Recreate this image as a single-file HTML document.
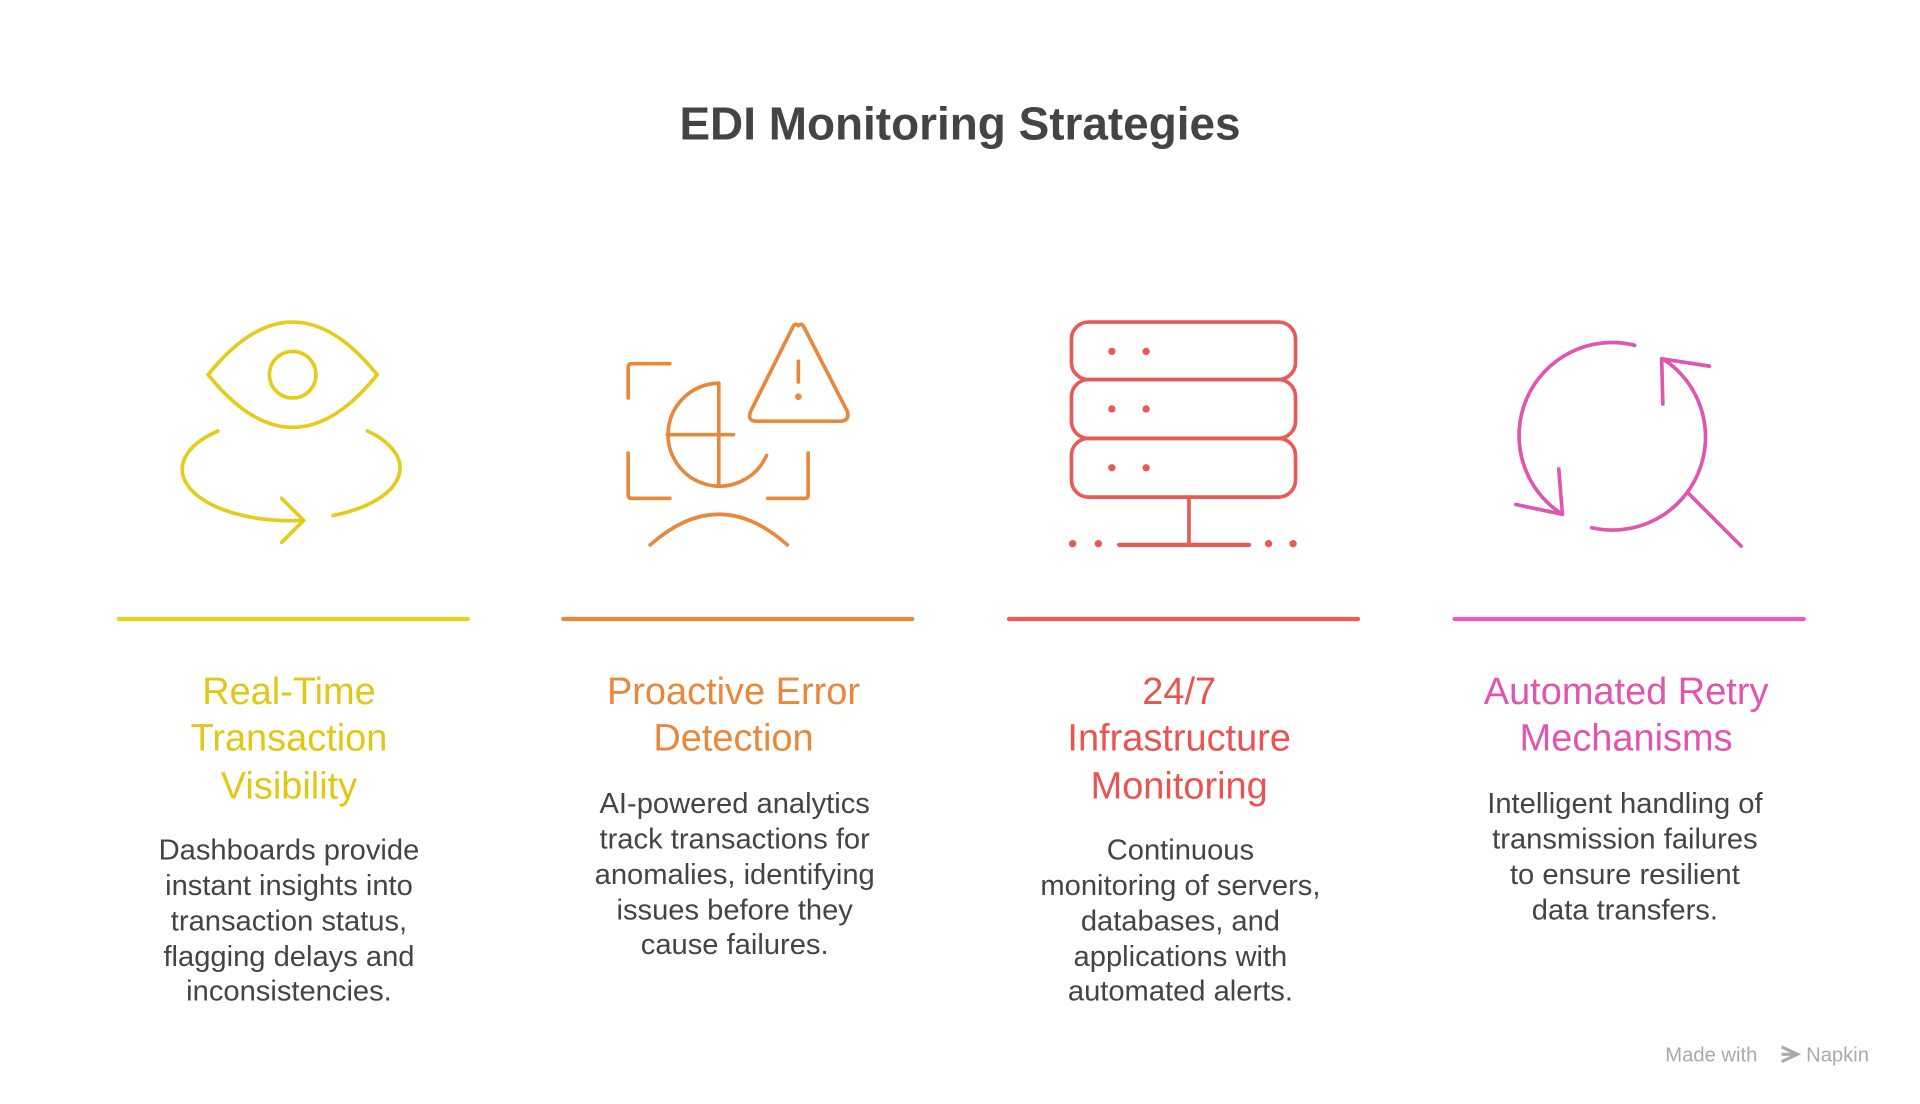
<!DOCTYPE html>
<html><head><meta charset="utf-8"><style>
html,body{margin:0;padding:0;background:#fff;}
svg{display:block;}
text{font-family:"Liberation Sans",sans-serif;}
</style></head><body>
<svg width="1920" height="1104" viewBox="0 0 1568 901.6" xmlns="http://www.w3.org/2000/svg">
<rect width="1568" height="902" fill="#fff"/>
<text x="784" y="114" text-anchor="middle" font-size="37.5" font-weight="bold" fill="#444">EDI Monitoring Strategies</text>

<!-- Icon 1 eye -->
<g fill="none" stroke="#E3CC1A" stroke-width="3" stroke-linecap="round">
<path d="M170 306 Q239 220 308 306 Q239 392 170 306 Z"/>
<circle cx="239" cy="306" r="19"/>
<path d="M178 352 A88 42 0 0 0 246 425"/>
<path d="M300 352 A88 42 0 0 1 272 421"/>
<path d="M230 407 L248 425 L230 443"/>
</g>
<line x1="97" y1="505.5" x2="382" y2="505.5" stroke="#E8D21A" stroke-width="3.5" stroke-linecap="round"/>

<!-- Icon 2 -->
<g fill="none" stroke="#E8883A" stroke-width="3" stroke-linecap="round" stroke-linejoin="round">
<path d="M513 325 L513 300 Q513 297 516 297 L547 297"/>
<path d="M513 370 L513 404 Q513 407 516 407 L547 407"/>
<path d="M660 370 L660 404 Q660 407 657 407 L627 407"/>
<path d="M587 313 L587 397"/>
<path d="M545 355 L599 355"/>
<path d="M587 313 A42 42 0 1 0 626 372"/>
<path d="M652 266 Q655 263 657 268 L692 336 Q694 344 686 344 L618 344 Q610 344 613 336 L647 268 Q649 263 652 266 Z"/>
<path d="M652 295 L652 312"/>
<circle cx="652" cy="324" r="1.2" fill="#E8883A"/>
<path d="M531 445 Q587 395 643 445"/>
</g>
<line x1="460" y1="505.5" x2="745" y2="505.5" stroke="#E8883A" stroke-width="3.5" stroke-linecap="round"/>

<!-- Icon 3 server -->
<g fill="none" stroke="#E85A55" stroke-width="3" stroke-linecap="round">
<rect x="875" y="263" width="183" height="47" rx="14"/>
<rect x="875" y="310" width="183" height="48" rx="14"/>
<rect x="875" y="358" width="183" height="48" rx="14"/>
<path d="M971 406 L971 445"/>
<path d="M914 445 L1020 445" stroke-width="3.5"/>
</g>
<g fill="#E85A55">
<circle cx="908" cy="287" r="3"/><circle cx="936" cy="287" r="3"/>
<circle cx="908" cy="334" r="3"/><circle cx="936" cy="334" r="3"/>
<circle cx="908" cy="382" r="3"/><circle cx="936" cy="382" r="3"/>
<circle cx="876" cy="444" r="3"/><circle cx="897" cy="444" r="3"/>
<circle cx="1036" cy="444" r="3"/><circle cx="1056" cy="444" r="3"/>
</g>
<line x1="824" y1="505.5" x2="1109" y2="505.5" stroke="#EE5A55" stroke-width="3.5" stroke-linecap="round"/>

<!-- Icon 4 retry -->
<g fill="none" stroke="#E055B0" stroke-width="3" stroke-linecap="round" stroke-linejoin="round">
<path d="M1335 282 A76 76 0 0 0 1276 420"/>
<path d="M1300 431 A76 76 0 0 0 1358 293"/>
<path d="M1358 330 L1357 293 L1396 299"/>
<path d="M1273 383 L1276 420 L1238 412"/>
<path d="M1378 402 L1422 446"/>
</g>
<line x1="1188" y1="505.5" x2="1473" y2="505.5" stroke="#EE5AB8" stroke-width="3.5" stroke-linecap="round"/>

<!-- Headings -->
<g font-size="31" text-anchor="middle">
<text fill="#E2C814"><tspan x="236" y="575">Real-Time</tspan><tspan x="236" y="613">Transaction</tspan><tspan x="236" y="652">Visibility</tspan></text>
<text fill="#E8883A"><tspan x="599" y="575">Proactive Error</tspan><tspan x="599" y="613">Detection</tspan></text>
<text fill="#E85450"><tspan x="963" y="575">24/7</tspan><tspan x="963" y="613">Infrastructure</tspan><tspan x="963" y="652">Monitoring</tspan></text>
<text fill="#E055B0"><tspan x="1328" y="575">Automated Retry</tspan><tspan x="1328" y="613">Mechanisms</tspan></text>
</g>

<!-- Descriptions -->
<g font-size="23.8" text-anchor="middle" fill="#444">
<text><tspan x="236" y="702">Dashboards provide</tspan><tspan x="236" y="731">instant insights into</tspan><tspan x="236" y="760">transaction status,</tspan><tspan x="236" y="789">flagging delays and</tspan><tspan x="236" y="817">inconsistencies.</tspan></text>
<text><tspan x="600" y="664">AI-powered analytics</tspan><tspan x="600" y="693">track transactions for</tspan><tspan x="600" y="722">anomalies, identifying</tspan><tspan x="600" y="751">issues before they</tspan><tspan x="600" y="779">cause failures.</tspan></text>
<text><tspan x="964" y="702">Continuous</tspan><tspan x="964" y="731">monitoring of servers,</tspan><tspan x="964" y="760">databases, and</tspan><tspan x="964" y="789">applications with</tspan><tspan x="964" y="817">automated alerts.</tspan></text>
<text><tspan x="1327" y="664">Intelligent handling of</tspan><tspan x="1327" y="693">transmission failures</tspan><tspan x="1327" y="722">to ensure resilient</tspan><tspan x="1327" y="751">data transfers.</tspan></text>
</g>

<text x="1360" y="867" font-size="16.5" fill="#aaa">Made with</text>
<path d="M1455 855 L1468 861 L1455 867 M1455 861 L1466 861" stroke="#aaa" stroke-width="2.5" fill="none"/>
<text x="1475" y="867" font-size="16.5" fill="#aaa">Napkin</text>
</svg>
</body></html>
